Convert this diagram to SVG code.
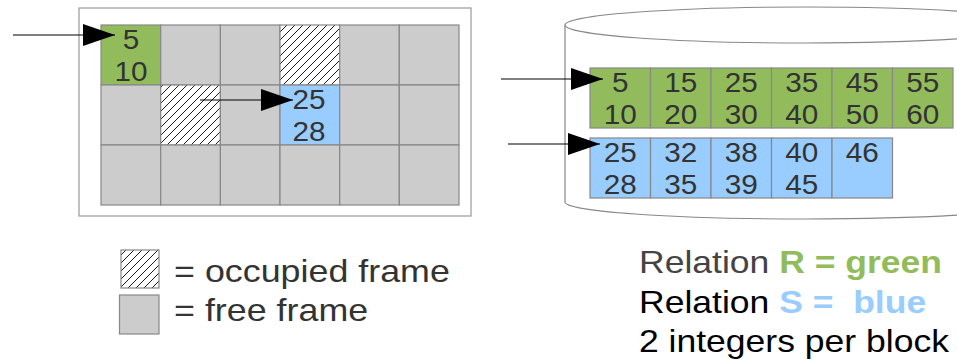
<svg xmlns="http://www.w3.org/2000/svg" width="957" height="363" viewBox="0 0 957 363">
<style>
.cell{stroke:#888888;stroke-width:1.2}
.free{fill:#cccccc}
.occ{fill:url(#hatch)}
.r{fill:#92bc5c}
.s{fill:#99ccff}
.num{font-family:"Liberation Sans",Arial,sans-serif;font-size:27px;fill:#333333;text-anchor:middle;transform-box:fill-box;transform-origin:center;transform:scaleX(1.1)}
.lbl{font-family:"Liberation Sans",Arial,sans-serif;font-size:32px;fill:#333333}
.rel{font-family:"Liberation Sans",Arial,sans-serif;font-size:32px;fill:#000000}
.conn{stroke:#000000;stroke-width:1;fill:none;marker-end:url(#ah)}
</style>
<defs>
<pattern id="hatch" patternUnits="userSpaceOnUse" width="8" height="8">
<rect width="8" height="8" fill="#ffffff"/>
<path d="M-2,2 L2,-2 M0,8 L8,0 M6,10 L10,6" stroke="#000000" stroke-width="0.9"/>
</pattern>
<marker id="ah" markerUnits="userSpaceOnUse" markerWidth="33" markerHeight="23" refX="32" refY="11" orient="auto">
<path d="M0,0 L32,11 L0,22 z" fill="#000000"/>
</marker>
</defs>
<rect width="957" height="363" fill="#ffffff"/>

<g id="buffer">
<rect x="79" y="8" width="392" height="208" fill="#ffffff" stroke="#999999" stroke-width="1.2"/>
<g id="row0">
<rect class="cell r" x="101" y="25" width="59.7" height="60"/>
<rect class="cell free" x="160.7" y="25" width="59.7" height="60"/>
<rect class="cell free" x="220.4" y="25" width="59.6" height="60"/>
<rect class="cell occ" x="280" y="25" width="59.7" height="60"/>
<rect class="cell free" x="339.7" y="25" width="59.6" height="60"/>
<rect class="cell free" x="399.3" y="25" width="59.7" height="60"/>
</g>
<g id="row1">
<rect class="cell free" x="101" y="85" width="59.7" height="60"/>
<rect class="cell occ" x="160.7" y="85" width="59.7" height="60"/>
<rect class="cell free" x="220.4" y="85" width="59.6" height="60"/>
<rect class="cell s" x="280" y="85" width="59.7" height="60"/>
<rect class="cell free" x="339.7" y="85" width="59.6" height="60"/>
<rect class="cell free" x="399.3" y="85" width="59.7" height="60"/>
</g>
<g id="row2">
<rect class="cell free" x="101" y="145" width="59.7" height="60"/>
<rect class="cell free" x="160.7" y="145" width="59.7" height="60"/>
<rect class="cell free" x="220.4" y="145" width="59.6" height="60"/>
<rect class="cell free" x="280" y="145" width="59.7" height="60"/>
<rect class="cell free" x="339.7" y="145" width="59.6" height="60"/>
<rect class="cell free" x="399.3" y="145" width="59.7" height="60"/>
</g>
<g id="buf-r"><text class="num" x="131" y="49">5</text><text class="num" x="131" y="81">10</text></g>
<g id="buf-s"><text class="num" x="309" y="109">25</text><text class="num" x="309" y="141">28</text></g>
</g>

<g id="disk">
<ellipse cx="805" cy="25" rx="240" ry="18" fill="none" stroke="#888888" stroke-width="1.2"/>
<path d="M565,25 L565,202 A240,17 0 0 0 1045,202" fill="none" stroke="#888888" stroke-width="1.2"/>
</g>

<g id="relR">
<rect class="cell r" x="590" y="68" width="60.5" height="60"/>
<rect class="cell r" x="650.5" y="68" width="60.5" height="60"/>
<rect class="cell r" x="711" y="68" width="60.5" height="60"/>
<rect class="cell r" x="771.5" y="68" width="60.5" height="60"/>
<rect class="cell r" x="832" y="68" width="60.5" height="60"/>
<rect class="cell r" x="892.5" y="68" width="60.5" height="60"/>
<text class="num" x="620.3" y="92">5</text><text class="num" x="620.3" y="124">10</text>
<text class="num" x="680.8" y="92">15</text><text class="num" x="680.8" y="124">20</text>
<text class="num" x="741.3" y="92">25</text><text class="num" x="741.3" y="124">30</text>
<text class="num" x="801.8" y="92">35</text><text class="num" x="801.8" y="124">40</text>
<text class="num" x="862.3" y="92">45</text><text class="num" x="862.3" y="124">50</text>
<text class="num" x="922.8" y="92">55</text><text class="num" x="922.8" y="124">60</text>
</g>

<g id="relS">
<rect class="cell s" x="590" y="138" width="60.5" height="60"/>
<rect class="cell s" x="650.5" y="138" width="60.5" height="60"/>
<rect class="cell s" x="711" y="138" width="60.5" height="60"/>
<rect class="cell s" x="771.5" y="138" width="60.5" height="60"/>
<rect class="cell s" x="832" y="138" width="60.5" height="60"/>
<text class="num" x="620.3" y="162">25</text><text class="num" x="620.3" y="194">28</text>
<text class="num" x="680.8" y="162">32</text><text class="num" x="680.8" y="194">35</text>
<text class="num" x="741.3" y="162">38</text><text class="num" x="741.3" y="194">39</text>
<text class="num" x="801.8" y="162">40</text><text class="num" x="801.8" y="194">45</text>
<text class="num" x="862.3" y="162">46</text>
</g>

<g id="connectors">
<line class="conn" x1="13" y1="35" x2="115" y2="35"/>
<line class="conn" x1="200" y1="100" x2="293" y2="100"/>
<line class="conn" x1="501" y1="79" x2="603" y2="79"/>
<line class="conn" x1="508" y1="144" x2="600" y2="144"/>
</g>

<g id="legend">
<rect x="121" y="250" width="38" height="38" fill="url(#hatch)" stroke="#888888" stroke-width="1.2"/>
<text class="lbl" transform="translate(174,282) scale(1.12,1)">= occupied frame</text>
<rect x="119.5" y="295" width="39.5" height="39" fill="#cccccc" stroke="#888888" stroke-width="1.2"/>
<text class="lbl" transform="translate(174,321) scale(1.12,1)">= free frame</text>
</g>

<g id="notes">
<text class="rel" transform="translate(639,273) scale(1.11,1)" xml:space="preserve"><tspan fill="#444444">Relation </tspan><tspan font-weight="bold" fill="#92bc5c">R = green</tspan></text>
<text class="rel" transform="translate(639,313) scale(1.11,1)" xml:space="preserve">Relation <tspan font-weight="bold" fill="#99ccff">S =  blue</tspan></text>
<text class="rel" transform="translate(639,352) scale(1.11,1)">2 integers per block</text>
</g>
</svg>
